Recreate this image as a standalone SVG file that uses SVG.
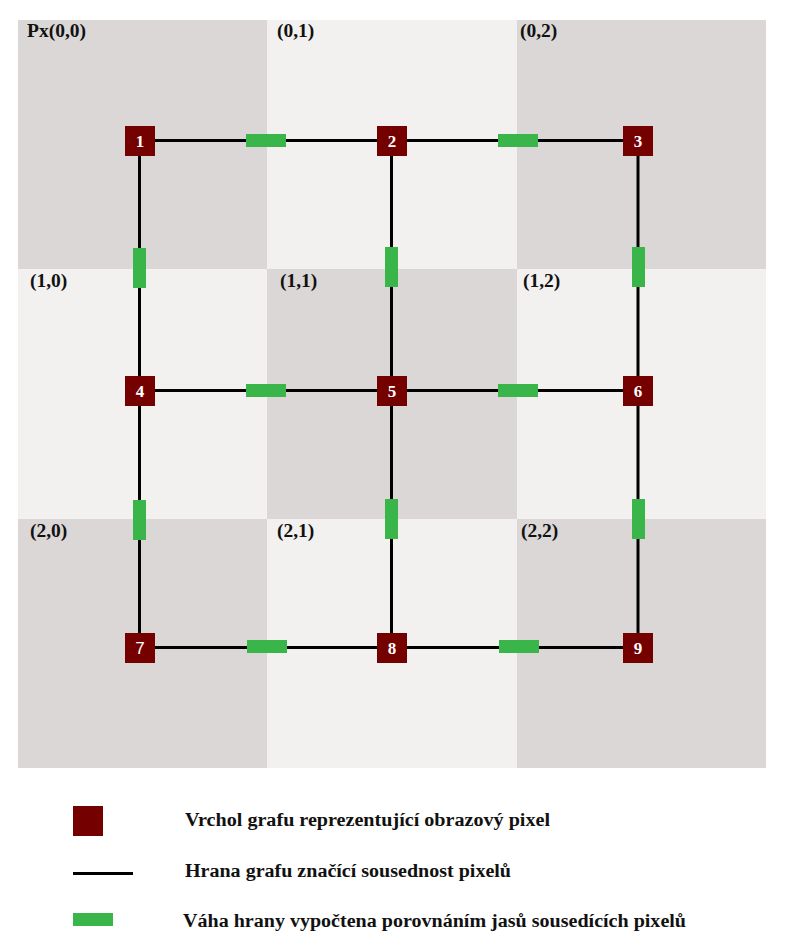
<svg xmlns="http://www.w3.org/2000/svg" width="789" height="951" viewBox="0 0 789 951">
<style>
.dk{fill:#DAD7D6}
.lt{fill:#F2F1EF}
.lbl{font-family:"Liberation Serif","Times New Roman",serif;font-weight:bold;font-size:19.5px;fill:#111}
.node rect{fill:#750000}
.node text{font-family:"Liberation Serif","Times New Roman",serif;font-weight:bold;font-size:17px;fill:#fff;text-anchor:middle}
.edge{stroke:#000;stroke-width:3;fill:none}
.w{fill:#39B54A}
.leg{font-family:"Liberation Serif","Times New Roman",serif;font-weight:bold;font-size:18px;fill:#111}
</style>
<rect width="789" height="951" fill="#fff"/>
<g id="pixels">
<rect class="dk" x="18" y="20" width="249" height="249"/>
<rect class="lt" x="267" y="20" width="250" height="249"/>
<rect class="dk" x="517" y="20" width="249" height="249"/>
<rect class="lt" x="18" y="269" width="249" height="250"/>
<rect class="dk" x="267" y="269" width="250" height="250"/>
<rect class="lt" x="517" y="269" width="249" height="250"/>
<rect class="dk" x="18" y="519" width="249" height="249"/>
<rect class="lt" x="267" y="519" width="250" height="249"/>
<rect class="dk" x="517" y="519" width="249" height="249"/>
<text class="lbl" x="27" y="37">Px(0,0)</text>
<text class="lbl" x="277" y="37">(0,1)</text>
<text class="lbl" x="520" y="37">(0,2)</text>
<text class="lbl" x="30" y="287">(1,0)</text>
<text class="lbl" x="280" y="287">(1,1)</text>
<text class="lbl" x="523" y="287">(1,2)</text>
<text class="lbl" x="30" y="537">(2,0)</text>
<text class="lbl" x="277" y="537">(2,1)</text>
<text class="lbl" x="521" y="537">(2,2)</text>
</g>
<g id="connectors">
<line class="edge" x1="140" y1="140.5" x2="638" y2="140.5"/>
<line class="edge" x1="140" y1="390.5" x2="638" y2="390.5"/>
<line class="edge" x1="140" y1="647.5" x2="638" y2="647.5"/>
<line class="edge" x1="139.5" y1="141" x2="139.5" y2="648"/>
<line class="edge" x1="391.5" y1="141" x2="391.5" y2="648"/>
<line class="edge" x1="638" y1="141" x2="638" y2="648"/>
<g id="weights">
<rect class="w" x="246" y="134" width="40" height="13"/>
<rect class="w" x="498" y="134" width="40" height="13"/>
<rect class="w" x="246" y="384" width="40" height="13"/>
<rect class="w" x="498" y="384" width="40" height="13"/>
<rect class="w" x="247" y="640" width="40" height="13"/>
<rect class="w" x="499" y="640" width="40" height="13"/>
<rect class="w" x="133" y="248" width="13" height="40"/>
<rect class="w" x="133" y="500" width="13" height="40"/>
<rect class="w" x="385" y="247" width="13" height="40"/>
<rect class="w" x="385" y="499" width="13" height="40"/>
<rect class="w" x="632" y="247" width="13" height="40"/>
<rect class="w" x="632" y="499" width="13" height="40"/>
</g>
</g>
<g id="node1" class="node"><rect x="125" y="126" width="30" height="30"/><text x="140" y="147">1</text></g>
<g id="node2" class="node"><rect x="377" y="126" width="30" height="30"/><text x="392" y="147">2</text></g>
<g id="node3" class="node"><rect x="623" y="126" width="30" height="30"/><text x="638" y="147">3</text></g>
<g id="node4" class="node"><rect x="125" y="376" width="30" height="30"/><text x="140" y="397">4</text></g>
<g id="node5" class="node"><rect x="377" y="376" width="30" height="30"/><text x="392" y="397">5</text></g>
<g id="node6" class="node"><rect x="623" y="376" width="30" height="30"/><text x="638" y="397">6</text></g>
<g id="node7" class="node"><rect x="125" y="633" width="30" height="30"/><text x="140" y="654" style="font-family:'Liberation Sans',Arial,sans-serif;font-weight:normal">7</text></g>
<g id="node8" class="node"><rect x="377" y="633" width="30" height="30"/><text x="392" y="654">8</text></g>
<g id="node9" class="node"><rect x="623" y="633" width="30" height="30"/><text x="638" y="654">9</text></g>
<g id="legend">
<rect x="73" y="806" width="30" height="30" fill="#750000"/>
<line x1="73" y1="873.5" x2="133" y2="873.5" stroke="#000" stroke-width="3"/>
<rect class="w" x="73" y="913" width="40" height="13"/>
<text class="leg" x="185" y="826" textLength="365" lengthAdjust="spacingAndGlyphs">Vrchol grafu reprezentující obrazový pixel</text>
<text class="leg" x="185" y="877" textLength="326" lengthAdjust="spacingAndGlyphs">Hrana grafu značící sousednost pixelů</text>
<text class="leg" x="183" y="926.5" textLength="503" lengthAdjust="spacingAndGlyphs">Váha hrany vypočtena porovnáním jasů sousedících pixelů</text>
</g>
</svg>
